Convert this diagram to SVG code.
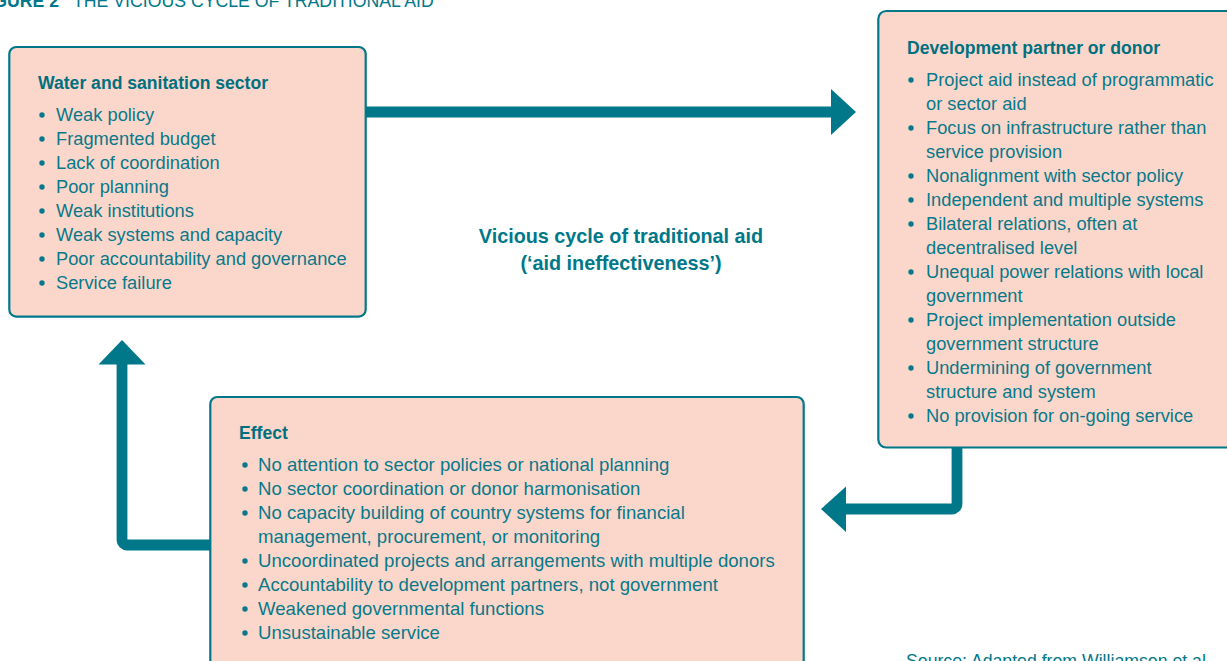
<svg xmlns="http://www.w3.org/2000/svg" width="1227" height="661" viewBox="0 0 1227 661">
  <style>
    .box { fill: #fbd7cb; stroke: #00788a; stroke-width: 2.2; }
    .hd { font-family: "Liberation Sans", Arial, sans-serif; font-weight: bold; font-size: 17.6px; fill: #00707f; }
    .tx { font-family: "Liberation Sans", Arial, sans-serif; font-size: 18.3px; fill: #08798a; }
    .tx2 { font-family: "Liberation Sans", Arial, sans-serif; font-size: 18.6px; fill: #08798a; }
    .dot { fill: #08798a; }
    .shaft { fill: none; stroke: #00788a; stroke-width: 10.8; }
    .head { fill: #00788a; }
    .cap { font-family: "Liberation Sans", Arial, sans-serif; font-size: 17.7px; fill: #00788a; }
    .mid { font-family: "Liberation Sans", Arial, sans-serif; font-weight: bold; font-size: 19.8px; fill: #00788a; text-anchor: middle; }
  </style>

  <!-- figure caption, running off the top edge -->
  <text class="cap" x="59" y="7" text-anchor="end" font-weight="bold">FIGURE 2</text>
  <text class="cap" x="73" y="7">THE VICIOUS CYCLE OF TRADITIONAL AID</text>

  <!-- connectors -->
  <g id="connectors">
    <path class="shaft" d="M366,112 L833,112"/>
    <polygon class="head" points="831,89 856,112 831,135"/>
    <path class="shaft" d="M957,448 L957,504 A5,5 0 0 1 952,509 L846,509"/>
    <polygon class="head" points="846,486.5 821,509 846,532"/>
    <path class="shaft" d="M210,545 L127,545 A5,5 0 0 1 122,540 L122,363"/>
    <polygon class="head" points="98.5,364.5 122,340 145.5,364.5"/>
  </g>

  <!-- Water and sanitation sector -->
  <g id="sector">
    <rect class="box" x="9.3" y="47" width="356.4" height="269.6" rx="7"/>
    <text class="hd" x="38" y="89">Water and sanitation sector</text>
    <g class="dot">
      <circle cx="42" cy="115" r="2.7"/><circle cx="42" cy="139" r="2.7"/>
      <circle cx="42" cy="163" r="2.7"/><circle cx="42" cy="187" r="2.7"/>
      <circle cx="42" cy="211" r="2.7"/><circle cx="42" cy="235" r="2.7"/>
      <circle cx="42" cy="259" r="2.7"/><circle cx="42" cy="283" r="2.7"/>
    </g>
    <text class="tx" x="56" y="121">Weak policy</text>
    <text class="tx" x="56" y="145">Fragmented budget</text>
    <text class="tx" x="56" y="169">Lack of coordination</text>
    <text class="tx" x="56" y="193">Poor planning</text>
    <text class="tx" x="56" y="217">Weak institutions</text>
    <text class="tx" x="56" y="241">Weak systems and capacity</text>
    <text class="tx" x="56" y="265">Poor accountability and governance</text>
    <text class="tx" x="56" y="289">Service failure</text>
  </g>

  <!-- Development partner or donor -->
  <g id="donor">
    <rect class="box" x="878.3" y="11" width="400" height="436.5" rx="8"/>
    <text class="hd" x="907" y="54">Development partner or donor</text>
    <g class="dot">
      <circle cx="911" cy="80" r="2.7"/><circle cx="911" cy="128" r="2.7"/>
      <circle cx="911" cy="176" r="2.7"/><circle cx="911" cy="200" r="2.7"/>
      <circle cx="911" cy="224" r="2.7"/><circle cx="911" cy="272" r="2.7"/>
      <circle cx="911" cy="320" r="2.7"/><circle cx="911" cy="368" r="2.7"/>
      <circle cx="911" cy="416" r="2.7"/>
    </g>
    <text class="tx" x="926" y="86">Project aid instead of programmatic</text>
    <text class="tx" x="926" y="110">or sector aid</text>
    <text class="tx" x="926" y="134">Focus on infrastructure rather than</text>
    <text class="tx" x="926" y="158">service provision</text>
    <text class="tx" x="926" y="182">Nonalignment with sector policy</text>
    <text class="tx" x="926" y="206">Independent and multiple systems</text>
    <text class="tx" x="926" y="230">Bilateral relations, often at</text>
    <text class="tx" x="926" y="254">decentralised level</text>
    <text class="tx" x="926" y="278">Unequal power relations with local</text>
    <text class="tx" x="926" y="302">government</text>
    <text class="tx" x="926" y="326">Project implementation outside</text>
    <text class="tx" x="926" y="350">government structure</text>
    <text class="tx" x="926" y="374">Undermining of government</text>
    <text class="tx" x="926" y="398">structure and system</text>
    <text class="tx" x="926" y="422">No provision for on-going service</text>
  </g>

  <!-- Effect -->
  <g id="effect">
    <rect class="box" x="210.3" y="397" width="593.4" height="300" rx="7"/>
    <text class="hd" x="239" y="439">Effect</text>
    <g class="dot">
      <circle cx="245" cy="465" r="2.7"/><circle cx="245" cy="489" r="2.7"/>
      <circle cx="245" cy="513" r="2.7"/><circle cx="245" cy="561" r="2.7"/>
      <circle cx="245" cy="585" r="2.7"/><circle cx="245" cy="609" r="2.7"/>
      <circle cx="245" cy="633" r="2.7"/>
    </g>
    <text class="tx2" x="258" y="471">No attention to sector policies or national planning</text>
    <text class="tx2" x="258" y="495">No sector coordination or donor harmonisation</text>
    <text class="tx2" x="258" y="519">No capacity building of country systems for financial</text>
    <text class="tx2" x="258" y="543">management, procurement, or monitoring</text>
    <text class="tx2" x="258" y="567">Uncoordinated projects and arrangements with multiple donors</text>
    <text class="tx2" x="258" y="591">Accountability to development partners, not government</text>
    <text class="tx2" x="258" y="615">Weakened governmental functions</text>
    <text class="tx2" x="258" y="639">Unsustainable service</text>
  </g>

  <!-- central label -->
  <g id="cycle-label">
    <text class="mid" x="621" y="243">Vicious cycle of traditional aid</text>
    <text class="mid" x="621" y="270">(‘aid ineffectiveness’)</text>
  </g>

  <!-- source note, running off the bottom edge -->
  <text class="cap" x="906" y="667" font-size="18px">Source: Adapted from Williamson et al.</text>
</svg>
